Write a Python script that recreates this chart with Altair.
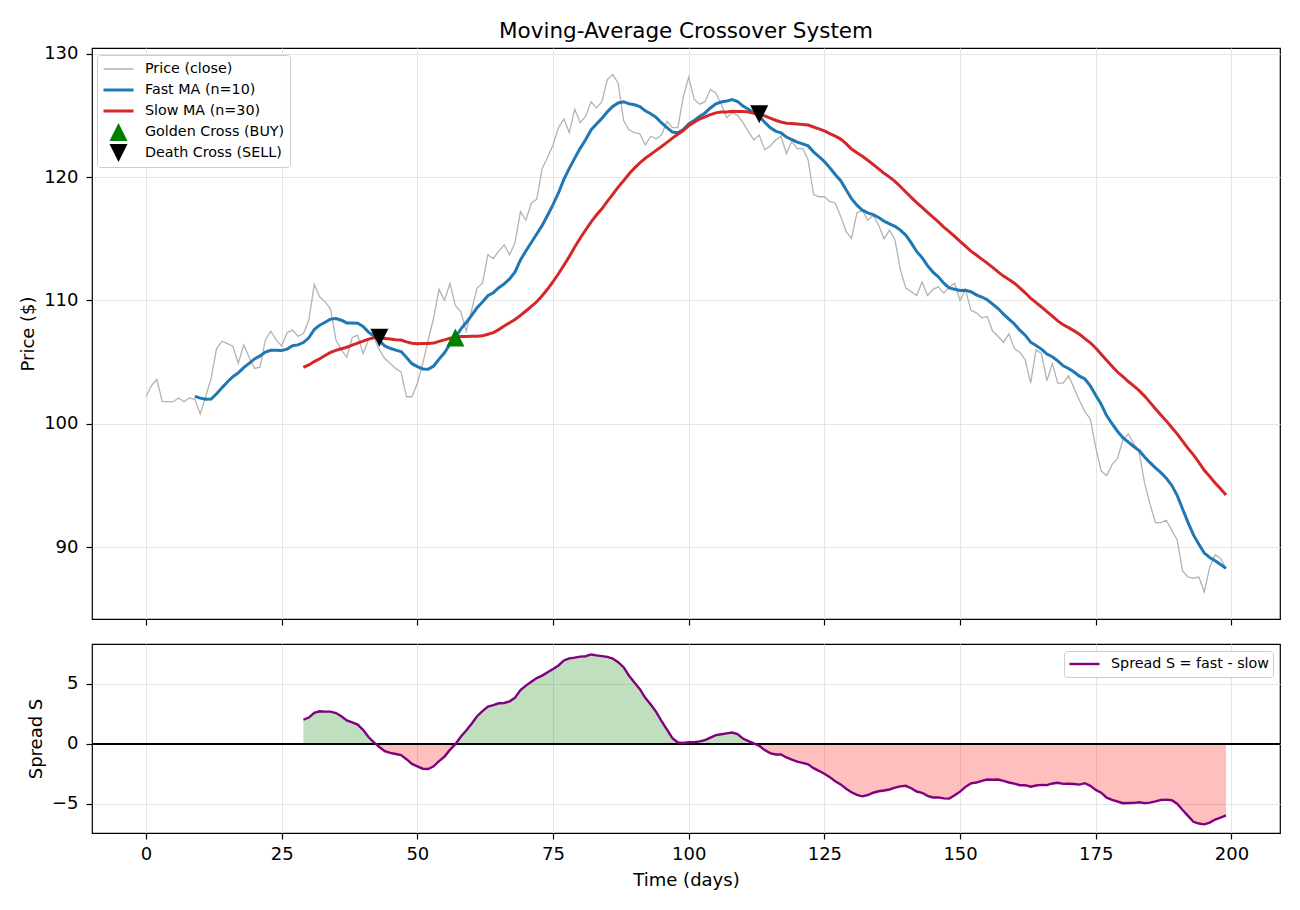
import altair as alt
import pandas as pd

# ---- data -------------------------------------------------------------
days = list(range(200))

price = [
    102.2, 103.1, 103.6, 101.8, 101.8, 101.8, 102.1, 101.8, 102.1, 102.0,
    100.8, 102.2, 103.7, 106.1, 106.7, 106.5, 106.3, 104.9, 106.4, 105.4,
    104.5, 104.6, 106.8, 107.5, 106.8, 106.3, 107.4, 107.6, 107.1, 107.3,
    108.4, 111.3, 110.3, 109.9, 109.3, 106.8, 106.0, 105.4, 107.0, 107.2,
    105.7, 106.8, 107.0, 106.0, 105.3, 104.9, 104.5, 104.2, 102.2, 102.2,
    103.3, 104.9, 106.8, 108.6, 110.9, 110.0, 111.4, 109.6, 109.1, 107.5,
    109.2, 111.0, 111.4, 113.7, 113.4, 114.0, 114.5, 113.7, 114.7, 117.2,
    116.5, 117.9, 118.2, 120.7, 121.6, 122.6, 124.0, 124.7, 123.6, 125.5,
    124.4, 124.9, 126.1, 125.6, 126.1, 127.9, 128.3, 127.6, 124.6, 123.8,
    123.6, 123.5, 122.6, 123.3, 123.1, 123.4, 124.5, 124.0, 124.0, 126.5,
    128.1, 126.3, 125.9, 126.1, 127.1, 126.8, 125.9, 124.8, 125.2, 125.0,
    124.4, 123.7, 123.0, 123.4, 122.2, 122.5, 123.0, 123.3, 121.9, 122.9,
    122.3, 122.3, 121.4, 118.6, 118.4, 118.4, 118.0, 117.9, 116.8, 115.6,
    115.0, 117.1, 117.3, 116.5, 116.9, 116.1, 115.0, 115.7, 114.9, 112.5,
    111.0, 110.7, 110.4, 111.5, 110.4, 110.9, 111.1, 110.6, 111.1, 111.4,
    110.0, 110.9, 109.2, 109.0, 108.6, 108.7, 107.5, 107.1, 106.6, 107.3,
    106.1, 105.8, 105.2, 103.3, 106.0, 105.7, 103.5, 104.9, 103.3, 103.3,
    103.9, 102.9, 101.9, 101.0, 100.4, 98.1, 96.2, 95.8, 96.7, 97.2,
    98.7, 99.2, 98.4, 97.7, 95.2, 93.5, 92.0, 92.0, 92.2, 91.4,
    90.6, 88.1, 87.6, 87.5, 87.6, 86.4, 88.4, 89.4, 89.1, 88.3,
]

FAST_N = 10
SLOW_N = 30

# crossover events (day index, signal type)
cross_days = [43, 57, 113]
cross_kinds = ["Death Cross (SELL)", "Golden Cross (BUY)", "Death Cross (SELL)"]

series_names = [
    "Price (close)",
    f"Fast MA (n={FAST_N})",
    f"Slow MA (n={SLOW_N})",
    "Golden Cross (BUY)",
    "Death Cross (SELL)",
]
TRI_UP = "M0,-1L1,1L-1,1Z"
TRI_DOWN = "M0,1L1,-1L-1,-1Z"

series_stroke = ["#b3b3b3", "#1f77b4", "#d62728", "#008000", "#000000"]
series_fill = ["transparent", "transparent", "transparent", "#008000", "#000000"]
series_shape = ["stroke", "stroke", "stroke", TRI_UP, TRI_DOWN]
series_size = [900, 900, 900, 324, 324]
series_width = [1.3, 3, 3, 0, 0]

spread_name = "Spread S = fast - slow"

x_ticks = [0, 25, 50, 75, 100, 125, 150, 175, 200]
price_ticks = [90, 100, 110, 120, 130]
spread_ticks = [-5, 0, 5]

# ---- derived series (simple moving averages) ---------------------------
p = pd.Series(price, index=days, dtype=float)
fast = p.rolling(FAST_N).mean()
slow = p.rolling(SLOW_N).mean()
spread = fast - slow

lines_df = pd.concat([
    pd.DataFrame({"day": days, "value": p.values, "series": series_names[0]}),
    pd.DataFrame({"day": days, "value": fast.values, "series": series_names[1]}).dropna(),
    pd.DataFrame({"day": days, "value": slow.values, "series": series_names[2]}).dropna(),
], ignore_index=True)

cross_df = pd.DataFrame({
    "day": cross_days,
    "value": [slow[d] for d in cross_days],
    "series": cross_kinds,
})

spread_df = pd.DataFrame({
    "day": days,
    "S": spread.values,
    "pos": spread.clip(lower=0).values,
    "neg": spread.clip(upper=0).values,
    "zero": 0.0,
    "label": spread_name,
}).dropna()

# ---- shared scales / axes ----------------------------------------------
x_scale = alt.Scale(domain=[-9.95, 208.95], nice=False, zero=False)
x_axis_top = alt.Axis(values=x_ticks, labels=False, title=None, grid=True)
x_axis_bot = alt.Axis(values=x_ticks, title="Time (days)", grid=True,
                      labelFlush=False, labelOverlap=False, labelPadding=6,
                      titlePadding=8)

price_scale = alt.Scale(domain=[84.2, 130.45], nice=False, zero=False)
price_axis = alt.Axis(values=price_ticks, title="Price ($)", grid=True,
                      labelPadding=8, titlePadding=6)

spread_scale = alt.Scale(domain=[-7.42, 8.33], nice=False, zero=False)
spread_axis = alt.Axis(values=spread_ticks, title="Spread S", grid=True,
                       labelPadding=8, titlePadding=6)

main_legend = alt.Legend(
    title=None,
    orient="none",
    legendX=5,
    legendY=7,
    labelFontSize=14.3,
    labelOffset=10,
    clipHeight=18,
    rowPadding=3,
    padding=5,
    symbolOpacity=1,
    fillColor="rgba(255,255,255,0.85)",
    strokeColor="#cccccc",
    cornerRadius=3,
)


def ordinal(rng):
    return alt.Scale(type="ordinal", domain=series_names, range=rng)


enc_stroke = alt.Stroke("series:N", scale=ordinal(series_stroke), legend=main_legend)
enc_fill = alt.Fill("series:N", scale=ordinal(series_fill), legend=main_legend)
enc_shape = alt.Shape("series:N", scale=ordinal(series_shape), legend=main_legend)
enc_size = alt.Size("series:N", scale=ordinal(series_size), legend=main_legend)
enc_width = alt.StrokeWidth("series:N", scale=ordinal(series_width), legend=main_legend)

# ---- top panel: price with moving averages -----------------------------
base_lines = alt.Chart(lines_df)


def line_layer(name):
    return base_lines.transform_filter(
        alt.datum.series == name
    ).mark_line(clip=True).encode(
        x=alt.X("day:Q", scale=x_scale, axis=x_axis_top),
        y=alt.Y("value:Q", scale=price_scale, axis=price_axis),
        stroke=enc_stroke,
        strokeWidth=enc_width,
    )


price_line = line_layer(series_names[0])
fast_line = line_layer(series_names[1])
slow_line = line_layer(series_names[2])

markers = alt.Chart(cross_df).mark_point(filled=True, opacity=1).encode(
    x=alt.X("day:Q", scale=x_scale, axis=x_axis_top),
    y=alt.Y("value:Q", scale=price_scale, axis=price_axis),
    stroke=enc_stroke,
    fill=enc_fill,
    shape=enc_shape,
    size=enc_size,
    strokeWidth=enc_width,
)

top = alt.layer(price_line, fast_line, slow_line, markers).properties(
    width=1188,
    height=571,
    title=alt.TitleParams(
        "Moving-Average Crossover System",
        fontSize=21.5,
        fontWeight="normal",
        anchor="middle",
        frame="group",
        offset=2,
    ),
)

# ---- bottom panel: spread between the averages -------------------------
spread_legend = alt.Legend(
    title=None,
    orient="top-right",
    offset=7,
    symbolType="stroke",
    symbolSize=900,
    symbolStrokeWidth=2.4,
    labelFontSize=14.3,
    labelOffset=10,
    clipHeight=18,
    padding=4,
    fillColor="rgba(255,255,255,0.85)",
    strokeColor="#cccccc",
    cornerRadius=3,
)

sbase = alt.Chart(spread_df)
sx = alt.X("day:Q", scale=x_scale, axis=x_axis_bot)

area_pos = sbase.mark_area(color="#008000", opacity=0.25).encode(
    x=sx,
    y=alt.Y("pos:Q", scale=spread_scale, axis=spread_axis),
    y2="zero:Q",
)
area_neg = sbase.mark_area(color="#ff0000", opacity=0.25).encode(
    x=sx,
    y=alt.Y("neg:Q", scale=spread_scale, axis=spread_axis),
    y2="zero:Q",
)
spread_line = sbase.mark_line(strokeWidth=2.4).encode(
    x=sx,
    y=alt.Y("S:Q", scale=spread_scale, axis=spread_axis),
    color=alt.Color("label:N", scale=alt.Scale(domain=[spread_name], range=["#800080"]),
                    legend=spread_legend),
)
zero_rule = alt.Chart(spread_df).mark_rule(color="black", strokeWidth=1.6).encode(
    y=alt.Y(datum=0, scale=spread_scale, axis=spread_axis),
)

bottom = alt.layer(area_pos, area_neg, zero_rule, spread_line).properties(
    width=1188,
    height=189,
)

channels = ["color", "stroke", "fill", "shape", "size", "strokeWidth"]

chart = alt.vconcat(top, bottom, spacing=16).resolve_scale(
    **{c: "independent" for c in channels}
).resolve_legend(
    **{c: "independent" for c in channels}
).properties(
    padding={"left": 19, "top": 20, "right": 12, "bottom": 8},
).configure(
    font="DejaVu Sans",
).configure_view(
    stroke="black",
    strokeWidth=1.2,
).configure_axis(
    labelFont="DejaVu Sans",
    titleFont="DejaVu Sans",
    labelFontSize=18,
    titleFontSize=18,
    titleFontWeight="normal",
    labelColor="black",
    titleColor="black",
    tickColor="black",
    tickSize=6,
    tickWidth=1.2,
    domain=False,
    gridColor="#e6e6e6",
    gridWidth=1,
).configure_title(
    font="DejaVu Sans",
    color="black",
).configure_legend(
    labelFont="DejaVu Sans",
    labelColor="black",
    strokeWidth=1,
)

chart.save("out.html", embed_options={"renderer": "svg", "actions": False})
